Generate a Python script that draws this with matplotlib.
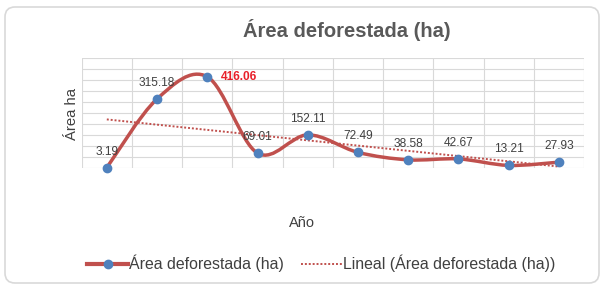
import numpy as np
import matplotlib
matplotlib.use("Agg")
import matplotlib.pyplot as plt
from matplotlib.path import Path
from matplotlib.patches import PathPatch, FancyBboxPatch
from matplotlib.lines import Line2D

plt.rcParams['font.family'] = ['Liberation Sans', 'DejaVu Sans']

# data
positions = np.arange(1, 11)
area = [3.19, 315.18, 416.06, 69.01, 152.11, 72.49, 38.58, 42.67, 13.21, 27.93]
highlight = 2  # index of the max value, labelled in red

line_color = "#C0504D"
marker_color = "#4F81BD"
grid_color = "#D9D9D9"
text_color = "#404040"


def smooth_path(xs, ys):
    # Excel-like smoothed line: Catmull-Rom segments as cubic Bezier curves
    pts = np.column_stack([xs, ys]).astype(float)
    n = len(pts)
    verts = [pts[0]]
    codes = [Path.MOVETO]
    for i in range(n - 1):
        p0 = pts[i - 1] if i > 0 else pts[i]
        p1 = pts[i]
        p2 = pts[i + 1]
        p3 = pts[i + 2] if i + 2 < n else pts[i + 1]
        verts += [p1 + (p2 - p0) / 6, p2 - (p3 - p1) / 6, p2]
        codes += [Path.CURVE4] * 3
    return Path(verts, codes)


fig = plt.figure(figsize=(6.05, 2.86), dpi=100)
ax = fig.add_axes([81.7 / 605, 1 - 168.3 / 286, 502.3 / 605, 110 / 286])

# smoothed series line and markers
ax.add_patch(PathPatch(smooth_path(positions, area), facecolor="none",
                       edgecolor=line_color, lw=2.5, capstyle="round",
                       zorder=3, clip_on=False))
ax.plot(positions, area, "o", color=marker_color, markersize=6, zorder=4,
        clip_on=False)

# linear trendline
slope, intercept = np.polyfit(positions, area, 1)
ax.plot(positions[[0, -1]], slope * positions[[0, -1]] + intercept,
        linestyle=(0, (1, 1)), color=line_color, lw=1.4, zorder=2)

# data labels
for i, (x, v) in enumerate(zip(positions, area)):
    if i == highlight:
        ax.annotate(f"{v:.2f}", (x, v), xytext=(9.5, 0), textcoords="offset points",
                    ha="left", va="center", fontsize=8.6, fontweight="bold",
                    color="#E8202A", zorder=5)
    else:
        ax.annotate(f"{v:.2f}", (x, v), xytext=(0, 11.5), textcoords="offset points",
                    ha="center", va="center", fontsize=8.6, color=text_color, zorder=5)

ax.set_xlim(0.5, 10.5)
ax.set_ylim(0, 500)
ax.set_xticks(np.arange(0.5, 11, 1))
ax.set_yticks(np.arange(0, 501, 50))
ax.grid(True, color=grid_color, lw=0.8)
ax.tick_params(length=0, labelbottom=False, labelleft=False)
for s in ax.spines.values():
    s.set_visible(False)
ax.set_axisbelow(True)

fig.text(347 / 605, 1 - 37 / 286, "Área deforestada (ha)", ha="center", va="baseline",
         fontsize=14.5, fontweight="bold", color="#595959")
fig.text(71.7 / 605, 1 - 114 / 286, "Área ha", rotation=90, ha="center", va="center",
         fontsize=10.7, color=text_color)
fig.text(302 / 605, 1 - 227 / 286, "Año", ha="center", va="baseline",
         fontsize=10.5, color=text_color)

handles = [
    Line2D([], [], color=line_color, lw=3, marker="o", markersize=6,
           markerfacecolor=marker_color, markeredgecolor=marker_color),
    Line2D([], [], color=line_color, lw=1.4, linestyle=(0, (1, 1))),
]
fig.legend(handles, ["Área deforestada (ha)", "Lineal (Área deforestada (ha))"],
           loc="center", bbox_to_anchor=(321.5 / 605, 1 - 263.3 / 286), ncol=2,
           frameon=False, fontsize=11.4, handlelength=2.6, handletextpad=0.05,
           columnspacing=1.1, labelcolor=text_color)

# rounded chart border
fig.add_artist(FancyBboxPatch((0.05, 0.03), 5.94, 2.76,
                              boxstyle="round,pad=0,rounding_size=0.1",
                              transform=fig.dpi_scale_trans, facecolor="none",
                              edgecolor=grid_color, lw=1.2))

fig.savefig("out.png", dpi=100)
